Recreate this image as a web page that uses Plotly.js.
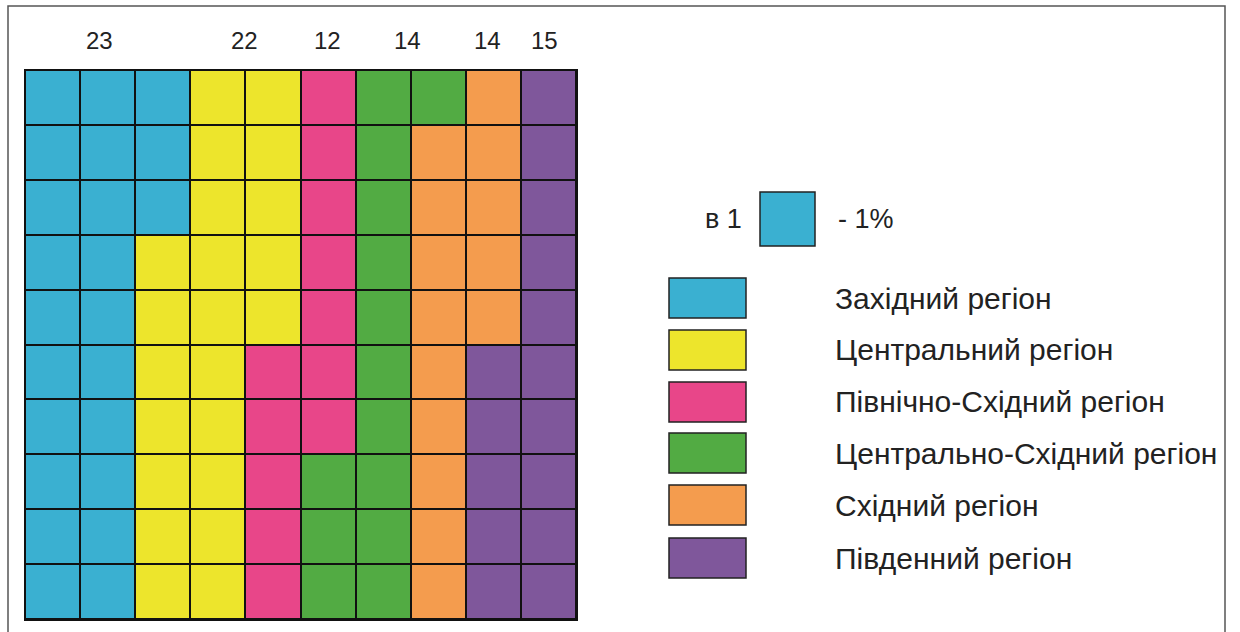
<!DOCTYPE html>
<html>
<head>
<meta charset="utf-8">
<script src="https://cdn.plot.ly/plotly-3.0.1.min.js"></script>
<style>html,body{margin:0;padding:0;background:#fff;}#chart{width:1240px;height:632px;}</style>
</head>
<body>
<div id="chart"></div>
<script>
// ---- data ----
const regions = ["Західний регіон", "Центральний регіон", "Північно-Східний регіон",
                 "Центрально-Східний регіон", "Східний регіон", "Південний регіон"];
const shares = [23, 22, 12, 14, 14, 15];           // % (1 cell = 1%)
const regionColors = ["#3ab0d1", "#ede52c", "#e84689", "#52ab43", "#f49c4e", "#7f579b"];
// waffle layout: category index of each cell, row by row from the top
const cellRows = [
  "0001123345",
  "0001123445",
  "0001123445",
  "0011123445",
  "0011123445",
  "0011223455",
  "0011223455",
  "0011233455",
  "0011233455",
  "0011233455"
];
// column positions (in cell units) of the share labels above the grid
const shareLabelCol = [1.36, 3.99, 5.49, 6.95, 8.40, 9.42];

// ---- build ----
const z = cellRows.map(r => r.split("").map(Number));
const nCol = z[0].length, nRow = z.length;
const n = regionColors.length;
const colorscale = [];
regionColors.forEach((c, i) => { colorscale.push([i / n, c]); colorscale.push([(i + 1) / n, c]); });

const W = 1240, H = 632;
const px = v => v / W, py = v => 1 - v / H;
const FONT = "Liberation Sans, Arial, Helvetica, sans-serif";

const trace = {
  type: "heatmap",
  z: z,
  x: [...Array(nCol).keys()],
  y: [...Array(nRow).keys()],
  zmin: -0.5, zmax: n - 0.5,
  colorscale: colorscale,
  showscale: false,
  xgap: 2, ygap: 2,
  hoverinfo: "skip"
};

const shapes = [
  // outer frame
  {type: "rect", xref: "paper", yref: "paper", x0: px(8), x1: px(1225), y0: -0.05, y1: py(6),
   line: {color: "#555", width: 1.5}, fillcolor: "rgba(0,0,0,0)"},
  // unit square "в 1 ... - 1%"
  {type: "rect", xref: "paper", yref: "paper", x0: px(760), x1: px(815), y0: py(246), y1: py(192),
   line: {color: "#222", width: 1.5}, fillcolor: regionColors[0]}
];
const annotations = [];
shares.forEach((v, i) => {
  annotations.push({xref: "x", yref: "paper", x: shareLabelCol[i] - 0.5, y: py(40),
    text: String(v), showarrow: false, font: {family: FONT, size: 24, color: "#222"},
    xanchor: "center", yanchor: "middle"});
});
annotations.push({xref: "paper", yref: "paper", x: px(744), y: py(219), text: "в 1", showarrow: false,
  xanchor: "right", yanchor: "middle", font: {family: FONT, size: 27, color: "#222"}});
annotations.push({xref: "paper", yref: "paper", x: px(836), y: py(219), text: "- 1%", showarrow: false,
  xanchor: "left", yanchor: "middle", font: {family: FONT, size: 27, color: "#222"}});

const swTop = [278, 330, 382, 433, 485, 538];
regions.forEach((name, i) => {
  const t = swTop[i];
  shapes.push({type: "rect", xref: "paper", yref: "paper", x0: px(669), x1: px(746), y0: py(t + 40), y1: py(t),
    line: {color: "#222", width: 1.5}, fillcolor: regionColors[i]});
  annotations.push({xref: "paper", yref: "paper", x: px(833), y: py(t + 20), text: name, showarrow: false,
    xanchor: "left", yanchor: "middle", font: {family: FONT, size: 30, color: "#222"}});
});

const layout = {
  width: W, height: H,
  margin: {l: 0, r: 0, t: 0, b: 0},
  paper_bgcolor: "#ffffff",
  plot_bgcolor: "#111111",
  showlegend: false,
  xaxis: {domain: [px(25), px(576)], range: [-0.5, nCol - 0.5], showgrid: false, zeroline: false,
          showticklabels: false, ticks: "", showline: true, mirror: true, linecolor: "#111", linewidth: 1.5,
          fixedrange: true},
  yaxis: {domain: [py(619), py(70)], range: [nRow - 0.5, -0.5], showgrid: false, zeroline: false,
          showticklabels: false, ticks: "", showline: true, mirror: true, linecolor: "#111", linewidth: 1.5,
          fixedrange: true},
  shapes: shapes,
  annotations: annotations
};

Plotly.newPlot("chart", [trace], layout, {displayModeBar: false, staticPlot: true});
</script>
</body>
</html>
